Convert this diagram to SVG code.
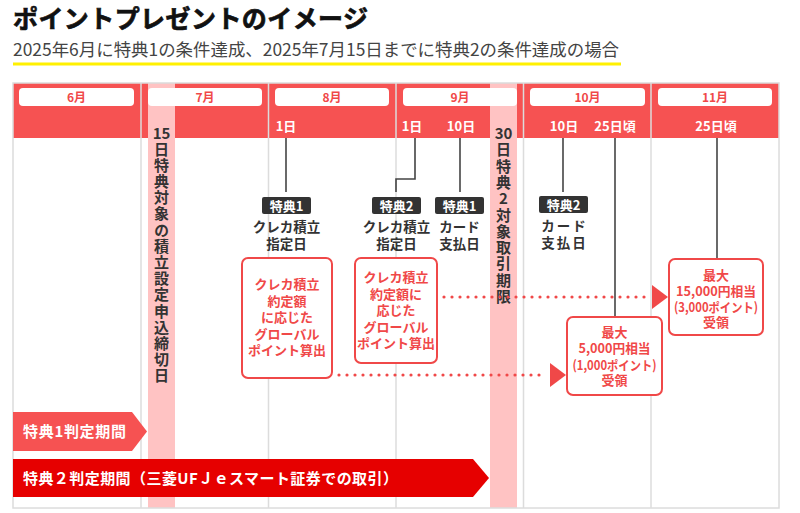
<svg xmlns="http://www.w3.org/2000/svg" width="800" height="513" viewBox="0 0 800 513">
<style>
text{font-family:"Noto Sans CJK JP","Noto Sans",sans-serif}
.title{font-size:25px;font-weight:bold;fill:#111;stroke:#111;stroke-width:0.7}
.sub{font-size:17.5px;fill:#444}
.mon{font-size:12px;font-weight:bold;fill:#f04848;text-anchor:middle}
.day{font-size:13px;font-weight:bold;fill:#fff;text-anchor:middle}
.vt{font-size:15px;font-weight:bold;fill:#333;text-anchor:middle}
.vv{font-size:15px;font-weight:bold;fill:#333;writing-mode:vertical-rl;text-orientation:upright}
.badge{fill:#333}
.bt{font-size:13px;font-weight:bold;fill:#fff;text-anchor:middle}
.lab{font-size:13.5px;font-weight:bold;fill:#333;text-anchor:middle}
.box{fill:#fff;stroke:#f04848;stroke-width:2}
.rt{font-size:13px;font-weight:bold;fill:#f04848;text-anchor:middle}
.cl{stroke:#444;stroke-width:1.6;fill:none}
.dot{stroke:#f04848;stroke-width:3.2;stroke-linecap:round;stroke-dasharray:0 8;fill:none}
.arr{fill:#f04848}
.grid{stroke:#dcdcdc;stroke-width:1.5}
.ml{fill:#fff}
</style>
<rect width="800" height="513" fill="#fff"/>
<g id="title">
<text class="title" x="13" y="27.5" textLength="355" lengthAdjust="spacing">ポイントプレゼントのイメージ</text>
<text class="sub" x="13" y="56" textLength="606" lengthAdjust="spacingAndGlyphs">2025年6月に特典1の条件達成、2025年7月15日までに特典2の条件達成の場合</text>
<line x1="13" y1="64" x2="621" y2="64" stroke="#fff000" stroke-width="3"/>
</g>
<g id="table">
<rect x="13" y="83" width="766" height="55" fill="#f65252"/>
<rect x="148" y="83" width="27" height="425" fill="#ffc3c3"/>
<rect x="490" y="83" width="27" height="425" fill="#ffc3c3"/>
<g class="grid">
<line x1="141" y1="83" x2="141" y2="508"/>
<line x1="268.5" y1="83" x2="268.5" y2="508"/>
<line x1="396" y1="83" x2="396" y2="508"/>
<line x1="523.5" y1="83" x2="523.5" y2="508"/>
<line x1="651" y1="83" x2="651" y2="508"/>
</g>
<rect x="13" y="83" width="766" height="425" fill="none" stroke="#dcdcdc" stroke-width="1.5"/>
<rect class="ml" x="19" y="88" width="115" height="18" rx="4"/>
<rect class="ml" x="148" y="88" width="114" height="18" rx="4"/>
<rect class="ml" x="275" y="88" width="114" height="18" rx="4"/>
<rect class="ml" x="403" y="88" width="114" height="18" rx="4"/>
<rect class="ml" x="530" y="88" width="115" height="18" rx="4"/>
<rect class="ml" x="658" y="88" width="114" height="18" rx="4"/>
<text class="mon" x="76.5" y="101.5">6月</text>
<text class="mon" x="205" y="101.5">7月</text>
<text class="mon" x="332" y="101.5">8月</text>
<text class="mon" x="460" y="101.5">9月</text>
<text class="mon" x="587.5" y="101.5">10月</text>
<text class="mon" x="715" y="101.5">11月</text>
<text class="day" x="286" y="131">1日</text>
<text class="day" x="412" y="131">1日</text>
<text class="day" x="461" y="131">10日</text>
<text class="day" x="564" y="131">10日</text>
<text class="day" x="615" y="131">25日頃</text>
<text class="day" x="716" y="131">25日頃</text>
</g>
<g id="deadline1">
<text class="vt" x="161.5" y="138.5">15</text>
<text class="vv" x="161.5" y="141.4" letter-spacing="1.2">日特典対象の積立設定申込締切日</text>
</g>
<g id="deadline2">
<text class="vt" x="503.5" y="139">30</text>
<text class="vv" x="503.5" y="142.2" letter-spacing="1.3">日特典2対象取引期限</text>
</g>
<g id="connectors">
<line class="cl" x1="286" y1="138" x2="286" y2="192"/>
<polyline class="cl" points="415,138 415,179 396,179 396,192"/>
<line class="cl" x1="460" y1="138" x2="460" y2="192"/>
<line class="cl" x1="563" y1="138" x2="563" y2="192"/>
<line class="cl" x1="615" y1="138" x2="615" y2="317"/>
<line class="cl" x1="717" y1="138" x2="717" y2="259"/>
<line class="dot" x1="444" y1="297" x2="648" y2="297"/>
<polygon class="arr" points="652,285 668,297 652,309"/>
<line class="dot" x1="339" y1="375" x2="545" y2="375"/>
<polygon class="arr" points="550,363 566,375 550,387"/>
</g>
<g id="ev1">
<rect class="badge" x="262" y="197" width="49" height="17" rx="2"/>
<text class="bt" x="286.5" y="210.5">特典1</text>
<text class="lab" x="286.5" y="232">クレカ積立</text>
<text class="lab" x="286.5" y="248.5">指定日</text>
</g>
<g id="ev2">
<rect class="badge" x="372" y="197" width="49" height="17" rx="2"/>
<text class="bt" x="396.5" y="210.5">特典2</text>
<text class="lab" x="396.5" y="232">クレカ積立</text>
<text class="lab" x="396.5" y="248.5">指定日</text>
</g>
<g id="ev3">
<rect class="badge" x="435" y="197" width="49" height="17" rx="2"/>
<text class="bt" x="459.5" y="210.5">特典1</text>
<text class="lab" x="459.5" y="232">カード</text>
<text class="lab" x="459.5" y="248.5">支払日</text>
</g>
<g id="ev4">
<rect class="badge" x="539" y="196" width="49" height="17" rx="2"/>
<text class="bt" x="563.5" y="209.5">特典2</text>
<text class="lab" x="564.5" y="231" letter-spacing="2">カード</text>
<text class="lab" x="564.5" y="247.5" letter-spacing="2">支払日</text>
</g>
<g id="boxA">
<rect class="box" x="242" y="258" width="90" height="120" rx="6"/>
<text class="rt" x="287" y="289">クレカ積立</text>
<text class="rt" x="287" y="305.5">約定額</text>
<text class="rt" x="287" y="322">に応じた</text>
<text class="rt" x="287" y="338.5">グローバル</text>
<text class="rt" x="287" y="355">ポイント算出</text>
</g>
<g id="boxB">
<rect class="box" x="355" y="258" width="82" height="105" rx="6"/>
<text class="rt" x="396" y="282">クレカ積立</text>
<text class="rt" x="396" y="298.5">約定額に</text>
<text class="rt" x="396" y="315">応じた</text>
<text class="rt" x="396" y="331.5">グローバル</text>
<text class="rt" x="396" y="348">ポイント算出</text>
</g>
<g id="boxC">
<rect class="box" x="567" y="317" width="95" height="78" rx="6"/>
<text class="rt" x="614.5" y="337">最大</text>
<text class="rt" x="614.5" y="353" textLength="72" lengthAdjust="spacingAndGlyphs">5,000円相当</text>
<text class="rt" x="614.5" y="369.5" textLength="84" lengthAdjust="spacingAndGlyphs">(1,000ポイント)</text>
<text class="rt" x="614.5" y="385">受領</text>
</g>
<g id="boxD">
<rect class="box" x="669" y="259" width="94" height="76" rx="6"/>
<text class="rt" x="716" y="280">最大</text>
<text class="rt" x="716" y="296" textLength="80" lengthAdjust="spacingAndGlyphs">15,000円相当</text>
<text class="rt" x="716" y="311.5" textLength="84" lengthAdjust="spacingAndGlyphs">(3,000ポイント)</text>
<text class="rt" x="716" y="327">受領</text>
</g>
<g id="period1">
<polygon points="13,412 132,412 147,431.5 132,451 13,451" fill="#f65252"/>
<text x="23" y="437" font-size="15" font-weight="bold" fill="#fff" textLength="103" lengthAdjust="spacing">特典1判定期間</text>
</g>
<g id="period2">
<polygon points="13,459 473,459 489,478 473,497 13,497" fill="#e60000"/>
<text x="23" y="483.5" font-size="15" font-weight="bold" fill="#fff" textLength="375" lengthAdjust="spacing">特典２判定期間（三菱UFＪｅスマート証券での取引）</text>
</g>
</svg>
